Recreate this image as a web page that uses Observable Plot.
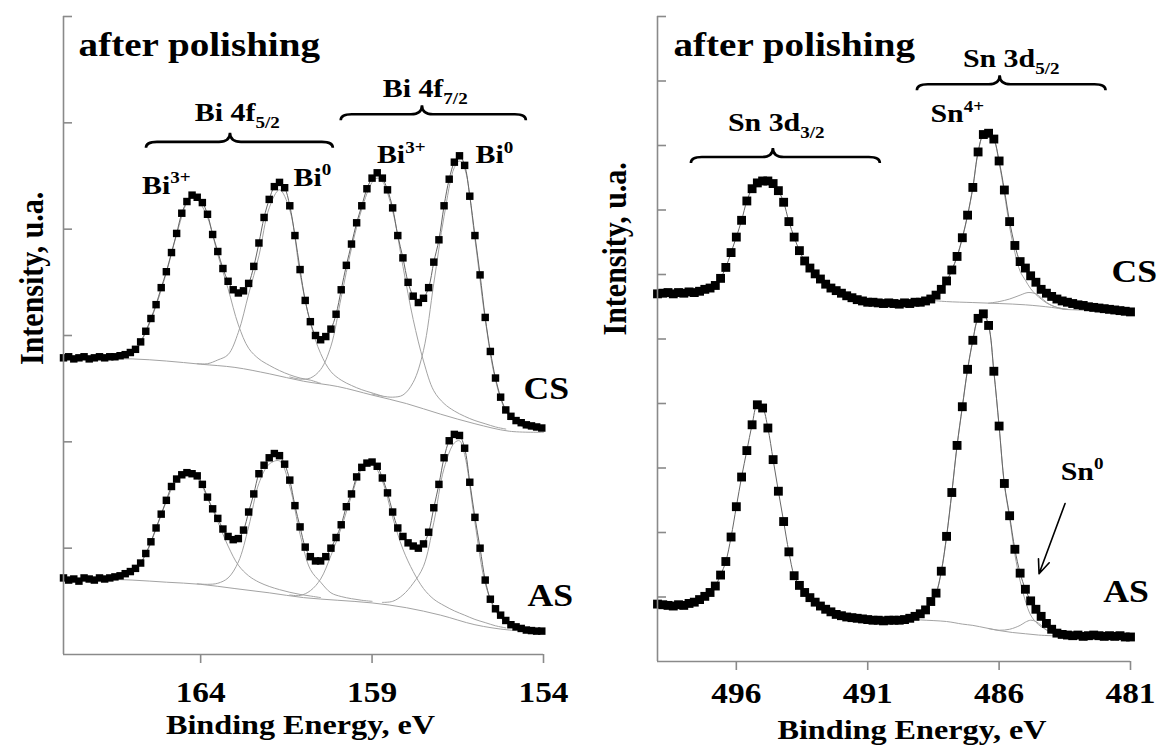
<!DOCTYPE html>
<html>
<head>
<meta charset="utf-8">
<script src="https://cdn.jsdelivr.net/npm/d3@7"></script>
<script src="https://cdn.jsdelivr.net/npm/@observablehq/plot@0.6"></script>
<style>
  body { margin: 0; background: #fff; }
  #wrap { position: relative; width: 1158px; height: 747px; overflow: hidden; background: #fff; }
  #wrap svg { position: absolute; top: 0; }
</style>
</head>
<body>
<div id="wrap"></div>
<script>
// ---------------- Bi 4f panel (left) ----------------
const biEnergy = [168.00,167.85,167.70,167.55,167.40,167.25,167.10,166.95,166.80,166.65,
  166.50,166.35,166.20,166.05,165.90,165.75,165.60,165.45,165.30,165.15,
  165.00,164.85,164.70,164.55,164.40,164.25,164.10,163.95,163.80,163.65,
  163.50,163.35,163.20,163.05,162.90,162.75,162.60,162.45,162.30,162.15,
  162.00,161.85,161.70,161.55,161.40,161.25,161.10,160.95,160.80,160.65,
  160.50,160.35,160.20,160.05,159.90,159.75,159.60,159.45,159.30,159.15,
  159.00,158.85,158.70,158.55,158.40,158.25,158.10,157.95,157.80,157.65,
  157.50,157.35,157.20,157.05,156.90,156.75,156.60,156.45,156.30,156.15,
  156.00,155.85,155.70,155.55,155.40,155.25,155.10,154.95,154.80,154.65,
  154.50,154.35,154.20,154.05];
const biCS = [2.79,2.80,2.78,2.79,2.80,2.78,2.79,2.80,2.79,2.80,
  2.80,2.81,2.82,2.84,2.87,2.94,3.04,3.16,3.29,3.45,
  3.60,3.78,3.96,4.15,4.26,4.32,4.30,4.25,4.14,3.95,
  3.79,3.63,3.51,3.43,3.40,3.42,3.49,3.65,3.87,4.11,
  4.28,4.40,4.44,4.39,4.22,3.94,3.62,3.33,3.13,3.00,
  2.96,2.99,3.06,3.20,3.43,3.66,3.86,4.06,4.22,4.38,
  4.48,4.53,4.48,4.37,4.20,3.94,3.73,3.50,3.37,3.31,
  3.35,3.45,3.69,3.90,4.22,4.47,4.63,4.69,4.60,4.31,
  3.94,3.57,3.17,2.85,2.60,2.42,2.30,2.24,2.20,2.18,
  2.16,2.15,2.14,2.13];
const biAS = [0.72,0.70,0.71,0.69,0.72,0.71,0.70,0.72,0.71,0.72,
  0.73,0.74,0.76,0.78,0.81,0.86,0.95,1.06,1.19,1.32,
  1.45,1.58,1.65,1.69,1.71,1.70,1.68,1.60,1.48,1.37,
  1.28,1.18,1.11,1.08,1.09,1.17,1.34,1.51,1.70,1.78,
  1.85,1.89,1.87,1.79,1.64,1.40,1.20,1.01,0.92,0.88,
  0.88,0.92,1.00,1.10,1.22,1.39,1.51,1.67,1.76,1.80,
  1.81,1.77,1.66,1.52,1.34,1.19,1.11,1.05,1.02,1.00,
  1.04,1.15,1.38,1.60,1.85,2.01,2.07,2.06,1.94,1.62,
  1.29,1.00,0.70,0.52,0.43,0.37,0.32,0.28,0.26,0.245,
  0.23,0.225,0.22,0.22];

// fitted components [energy, intensity]
const biCSBase = [[168,2.78],[167,2.78],[166,2.78],[165,2.76],[164,2.73],[163,2.70],[162,2.64],[161,2.57],[160,2.52],[159,2.44],[158,2.36],[157,2.26],[156,2.17],[155,2.10],[154,2.09]];
const biCSBi3p52 = [[166.8,2.79],[166.5,2.79],[166.2,2.81],[165.9,2.86],[165.6,3.03],[165.3,3.28],[165.0,3.59],[164.7,3.95],[164.4,4.25],[164.25,4.30],[164.1,4.28],[163.8,4.11],[163.5,3.76],[163.2,3.44],[162.9,3.10],[162.6,2.88],[162.3,2.78],[162.0,2.72],[161.7,2.67],[161.4,2.63],[161.1,2.60],[160.8,2.58],[160.5,2.55]];
const biCSBi0_52 = [[164.1,2.735],[163.8,2.735],[163.5,2.77],[163.2,2.82],[162.9,3.03],[162.6,3.39],[162.3,3.75],[162.0,4.20],[161.7,4.37],[161.4,4.18],[161.1,3.58],[160.8,3.12],[160.5,2.83],[160.2,2.66],[159.9,2.58],[159.6,2.53],[159.3,2.49],[159.0,2.46],[158.7,2.43]];
const biCSBi3p72 = [[161.4,2.61],[161.1,2.59],[160.8,2.60],[160.5,2.68],[160.2,2.90],[159.9,3.36],[159.6,3.82],[159.3,4.19],[159.0,4.44],[158.85,4.48],[158.7,4.45],[158.4,4.17],[158.1,3.65],[157.8,3.15],[157.5,2.76],[157.2,2.48],[156.9,2.36],[156.6,2.29],[156.3,2.24],[156.0,2.20],[155.7,2.17],[155.4,2.14],[155.1,2.12]];
const biCSBi0_72 = [[159.0,2.45],[158.7,2.43],[158.4,2.42],[158.1,2.44],[157.8,2.56],[157.5,2.86],[157.2,3.49],[156.9,4.12],[156.6,4.58],[156.45,4.64],[156.3,4.57],[156.0,3.91],[155.7,3.15],[155.4,2.58],[155.1,2.29],[154.8,2.18],[154.5,2.13],[154.2,2.11]];

const biASBase = [[168,0.71],[167,0.71],[166,0.70],[165,0.68],[164,0.66],[163,0.62],[162,0.58],[161,0.535],[160,0.51],[159,0.485],[158,0.44],[157,0.37],[156,0.28],[155,0.23],[154,0.215]];
const biASBi3p52 = [[166.8,0.71],[166.5,0.72],[166.2,0.75],[165.9,0.80],[165.6,0.94],[165.3,1.18],[165.0,1.44],[164.7,1.64],[164.4,1.70],[164.1,1.66],[163.8,1.47],[163.5,1.25],[163.2,1.02],[162.9,0.84],[162.6,0.74],[162.3,0.68],[162.0,0.64],[161.7,0.61],[161.4,0.585],[161.1,0.565],[160.8,0.55],[160.5,0.535]];
const biASBi0_52 = [[164.1,0.665],[163.8,0.66],[163.5,0.67],[163.2,0.72],[162.9,0.87],[162.6,1.20],[162.3,1.61],[162.0,1.79],[161.7,1.82],[161.4,1.58],[161.1,1.13],[160.8,0.80],[160.5,0.68],[160.2,0.58],[159.9,0.545],[159.6,0.525],[159.3,0.51],[159.0,0.50]];
const biASBi3p72 = [[161.4,0.56],[161.1,0.555],[160.8,0.60],[160.5,0.71],[160.2,0.93],[159.9,1.19],[159.6,1.49],[159.3,1.74],[159.0,1.79],[158.7,1.63],[158.4,1.29],[158.1,0.99],[157.8,0.78],[157.5,0.62],[157.2,0.52],[156.9,0.46],[156.6,0.41],[156.3,0.37],[156.0,0.33],[155.7,0.30],[155.4,0.27],[155.1,0.25]];
const biASBi0_72 = [[158.7,0.49],[158.4,0.50],[158.1,0.56],[157.8,0.67],[157.5,0.83],[157.2,1.24],[156.9,1.75],[156.6,1.99],[156.45,2.01],[156.3,1.88],[156.0,1.24],[155.7,0.67],[155.4,0.41],[155.1,0.30],[154.8,0.25],[154.5,0.23],[154.2,0.22]];

const biXTicks = [164, 159, 154];
const biYTicks = [1, 2, 3, 4, 5, 6];
const biTitle = [{text: "after polishing", e: 167.56, v: 5.63}];
const biBands = [{text: "Bi 4f_{5/2}", e: 162.93, v: 5.02}, {text: "Bi 4f_{7/2}", e: 157.45, v: 5.24}];
const biStates = [
  {text: "Bi^{3+}", e: 165.0, v: 4.335}, {text: "Bi^{0}", e: 160.74, v: 4.41},
  {text: "Bi^{3+}", e: 158.15, v: 4.62}, {text: "Bi^{0}", e: 155.43, v: 4.62}];
const biSamples = [{text: "CS", e: 153.92, v: 2.40}, {text: "AS", e: 153.8, v: 0.46}];
const biBraces = [{from: 165.58, to: 160.13, mid: 163.13, at: 4.76}, {from: 159.9, to: 154.5, mid: 157.53, at: 5.02}];

// ---------------- Sn 3d panel (right) ----------------
const snEnergy = [499.0,498.8,498.6,498.4,498.2,498.0,497.8,497.6,497.4,497.2,
  497.0,496.8,496.6,496.4,496.2,496.0,495.8,495.6,495.4,495.2,
  495.0,494.8,494.6,494.4,494.2,494.0,493.8,493.6,493.4,493.2,
  493.0,492.8,492.6,492.4,492.2,492.0,491.8,491.6,491.4,491.2,
  491.0,490.8,490.6,490.4,490.2,490.0,489.8,489.6,489.4,489.2,
  489.0,488.8,488.6,488.4,488.2,488.0,487.8,487.6,487.4,487.2,
  487.0,486.8,486.6,486.4,486.2,486.0,485.8,485.6,485.4,485.2,
  485.0,484.8,484.6,484.4,484.2,484.0,483.8,483.6,483.4,483.2,
  483.0,482.8,482.6,482.4,482.2,482.0,481.8,481.6,481.4,481.2,
  481.0];
const snCS = [5.70,5.71,5.72,5.70,5.72,5.71,5.73,5.72,5.74,5.77,
  5.79,5.83,5.94,6.11,6.34,6.58,6.84,7.14,7.33,7.42,
  7.45,7.45,7.41,7.30,7.12,6.82,6.58,6.37,6.21,6.10,
  6.01,5.93,5.85,5.79,5.75,5.71,5.67,5.64,5.61,5.59,
  5.57,5.57,5.56,5.55,5.56,5.55,5.54,5.56,5.55,5.57,
  5.57,5.59,5.62,5.68,5.77,5.90,6.07,6.28,6.57,6.92,
  7.35,7.90,8.17,8.19,8.10,7.76,7.31,6.82,6.45,6.20,
  6.10,5.98,5.88,5.77,5.71,5.66,5.62,5.59,5.57,5.55,
  5.53,5.52,5.50,5.49,5.48,5.47,5.46,5.45,5.44,5.43,
  5.42];
const snAS = [0.89,0.88,0.87,0.86,0.88,0.87,0.90,0.92,0.96,1.01,
  1.07,1.17,1.34,1.55,1.93,2.40,2.86,3.27,3.67,3.98,
  3.93,3.62,3.13,2.64,2.17,1.70,1.33,1.18,1.07,0.99,
  0.92,0.86,0.81,0.77,0.73,0.71,0.69,0.68,0.67,0.66,
  0.65,0.64,0.64,0.63,0.64,0.64,0.64,0.65,0.67,0.70,
  0.74,0.80,0.93,1.06,1.40,1.94,2.62,3.35,3.95,4.53,
  4.98,5.32,5.39,5.21,4.50,3.65,2.76,2.26,1.74,1.37,
  1.12,0.94,0.81,0.70,0.59,0.50,0.44,0.42,0.41,0.40,
  0.41,0.39,0.40,0.41,0.40,0.39,0.40,0.39,0.40,0.38,
  0.38];

const snCSBase = [[488.6,5.60],[488.0,5.58],[487.0,5.565],[486.0,5.55],[485.0,5.53],[484.0,5.49],[483.5,5.46],[483.0,5.45],[482.0,5.43],[481.0,5.42]];
const snCSSn4 = [[488.6,5.61],[488.4,5.67],[488.2,5.76],[488.0,5.89],[487.8,6.06],[487.6,6.27],[487.4,6.56],[487.2,6.91],[487.0,7.34],[486.8,7.89],[486.6,8.16],[486.4,8.18],[486.2,8.09],[486.0,7.73],[485.8,7.26],[485.6,6.74],[485.4,6.34],[485.2,6.05],[485.0,5.91],[484.8,5.78],[484.6,5.69],[484.4,5.62],[484.2,5.56],[484.0,5.52],[483.8,5.49],[483.6,5.47],[483.4,5.46]];
const snCSSn0 = [[486.4,5.555],[486.0,5.58],[485.6,5.62],[485.2,5.68],[484.9,5.72],[484.6,5.70],[484.4,5.64],[484.2,5.57],[484.0,5.52],[483.8,5.49],[483.6,5.47],[483.4,5.46]];
const snASBase = [[489.4,0.66],[489.0,0.645],[488.0,0.62],[487.4,0.58],[487.0,0.56],[486.5,0.52],[486.0,0.48],[485.5,0.45],[485.0,0.43],[484.5,0.41],[484.0,0.40],[483.0,0.40],[482.0,0.39],[481.0,0.38]];
const snASSn4 = [[489.0,0.75],[488.8,0.80],[488.6,0.92],[488.4,1.05],[488.2,1.39],[488.0,1.93],[487.8,2.61],[487.6,3.34],[487.4,3.94],[487.2,4.52],[487.0,4.97],[486.8,5.31],[486.6,5.38],[486.4,5.20],[486.2,4.49],[486.0,3.64],[485.8,2.74],[485.6,2.22],[485.4,1.66],[485.2,1.25],[485.0,0.94],[484.8,0.72],[484.6,0.61],[484.4,0.54],[484.2,0.49],[484.0,0.45],[483.8,0.42],[483.6,0.405],[483.4,0.40]];
const snASSn0 = [[486.4,0.51],[486.0,0.485],[485.6,0.50],[485.2,0.56],[485.0,0.61],[484.8,0.64],[484.6,0.62],[484.4,0.56],[484.2,0.49],[484.0,0.44],[483.8,0.41],[483.6,0.40]];

const snXTicks = [496, 491, 486, 481];
const snYTicks = [1, 2, 3, 4, 5, 6, 7, 8, 9, 10];
const snTitle = [{text: "after polishing", e: 498.39, v: 9.395}];
const snBands = [{text: "Sn 3d_{5/2}", e: 485.54, v: 9.21}, {text: "Sn 3d_{3/2}", e: 494.48, v: 8.22}];
const snStates = [{text: "Sn^{4+}", e: 487.59, v: 8.36}, {text: "Sn^{0}", e: 482.84, v: 2.82}];
const snSamples = [{text: "CS", e: 480.86, v: 5.89}, {text: "AS", e: 481.17, v: 0.93}];
const snBraces = [{from: 497.71, to: 490.52, mid: 494.59, at: 7.72}, {from: 489.11, to: 481.93, mid: 485.96, at: 8.85}];
const snArrow = [{e1: 483.49, v1: 2.45, e2: 484.48, v2: 1.36}];

// ---------------- rendering ----------------
const NS = "http://www.w3.org/2000/svg";
const FONT = "'Liberation Serif','Times New Roman',Times,serif";
const AXIS = "#8a8a8a";
const COMP = "#a3a3a3";

const table = (E, V) => E.map((e, i) => ({e, v: V[i]}));

function braceMark(list) {
  return (index, scales) => {
    const g = document.createElementNS(NS, "g");
    for (const b of list) {
      const x1 = scales.x(b.from), x2 = scales.x(b.to), xm = scales.x(b.mid), y0 = scales.y(b.at);
      const yl = y0 - 6, yc = yl - 9, r = 11;
      const p = document.createElementNS(NS, "path");
      p.setAttribute("d", `M${x1},${y0}Q${x1},${yl} ${x1 + r},${yl}L${xm - r},${yl}Q${xm},${yl} ${xm},${yc}Q${xm},${yl} ${xm + r},${yl}L${x2 - r},${yl}Q${x2},${yl} ${x2},${y0}`);
      p.setAttribute("fill", "none");
      p.setAttribute("stroke", "black");
      p.setAttribute("stroke-width", "2.6");
      g.appendChild(p);
    }
    return g;
  };
}

function compLines(list) {
  return list.map(c => Plot.line(c, {x: d => d[0], y: d => d[1], curve: "catmull-rom", stroke: COMP, strokeWidth: 1}));
}

function spectrum(data, r) {
  return [
    Plot.line(data, {x: "e", y: "v", curve: "catmull-rom", stroke: "#666", strokeWidth: 1}),
    Plot.dot(data, {x: "e", y: "v", symbol: "square", r, fill: "black"})
  ];
}

function labels(title, bands, states, samples, bandSize, stateSize, sampleSize) {
  const common = {x: "e", y: "v", text: "text", lineAnchor: "bottom", fontWeight: "bold", fill: "black"};
  return [
    Plot.text(title, {...common, textAnchor: "start", fontSize: 34}),
    Plot.text(bands, {...common, textAnchor: "middle", fontSize: bandSize}),
    Plot.text(states, {...common, textAnchor: "middle", fontSize: stateSize}),
    Plot.text(samples, {...common, textAnchor: "middle", fontSize: sampleSize})
  ];
}

const left = Plot.plot({
  width: 579, height: 747,
  marginLeft: 63, marginRight: 36, marginTop: 16, marginBottom: 93,
  style: {fontFamily: FONT, background: "transparent", overflow: "visible", color: "black"},
  x: {domain: [168, 154]},
  y: {domain: [0, 6]},
  marks: [
    ...compLines([biCSBase, biCSBi3p52, biCSBi0_52, biCSBi3p72, biCSBi0_72]),
    ...compLines([biASBase, biASBi3p52, biASBi0_52, biASBi3p72, biASBi0_72]),
    ...spectrum(table(biEnergy, biCS), 4.2),
    ...spectrum(table(biEnergy, biAS), 4.2),
    Plot.ruleY([0], {stroke: AXIS, strokeWidth: 1.6}),
    Plot.ruleX([168], {stroke: AXIS, strokeWidth: 1.6}),
    Plot.axisX(biXTicks, {tickSize: 9, tickPadding: 18, fontSize: 29, fontWeight: "bold", stroke: AXIS, strokeWidth: 1.6, fill: "black", label: null}),
    Plot.axisY(biYTicks, {tickSize: 9, dx: 9, stroke: AXIS, strokeWidth: 1.6, tickFormat: () => "", label: null}),
    braceMark(biBraces),
    ...labels(biTitle, biBands, biStates, biSamples, 26, 26, 31),
    Plot.text(["Binding Energy, eV"], {text: d => d, frameAnchor: "bottom", dx: -3, dy: 79, lineAnchor: "bottom", fontSize: 28, fontWeight: "bold", fill: "black"}),
    Plot.text(["Intensity, u.a."], {text: d => d, frameAnchor: "left", rotate: -90, dx: -32, dy: 29.5, lineAnchor: "middle", fontSize: 30, fontWeight: "bold", fill: "black"})
  ]
});

const right = Plot.plot({
  width: 579, height: 747,
  marginLeft: 78, marginRight: 28, marginTop: 16, marginBottom: 86,
  style: {fontFamily: FONT, background: "transparent", overflow: "visible", color: "black"},
  x: {domain: [499, 481]},
  y: {domain: [0, 10]},
  marks: [
    ...compLines([snCSBase, snCSSn4, snCSSn0, snASBase, snASSn4, snASSn0]),
    ...spectrum(table(snEnergy, snCS), 5.0),
    ...spectrum(table(snEnergy, snAS), 5.0),
    Plot.ruleY([0], {stroke: AXIS, strokeWidth: 1.6}),
    Plot.ruleX([499], {stroke: AXIS, strokeWidth: 1.6}),
    Plot.axisX(snXTicks, {tickSize: 9, tickPadding: 12, fontSize: 29, fontWeight: "bold", stroke: AXIS, strokeWidth: 1.6, fill: "black", label: null}),
    Plot.axisY(snYTicks, {tickSize: 9, dx: 9, stroke: AXIS, strokeWidth: 1.6, tickFormat: () => "", label: null}),
    braceMark(snBraces),
    Plot.arrow(snArrow, {x1: "e1", y1: "v1", x2: "e2", y2: "v2", stroke: "black", strokeWidth: 1.6, headLength: 14, headAngle: 45}),
    ...labels(snTitle, snBands, snStates, snSamples, 26, 26, 31),
    Plot.text(["Binding Energy, eV"], {text: d => d, frameAnchor: "bottom", dx: 18, dy: 77, lineAnchor: "bottom", fontSize: 28, fontWeight: "bold", fill: "black"}),
    Plot.text(["Intensity, u.a."], {text: d => d, frameAnchor: "left", rotate: -90, dx: -43, dy: -3.5, lineAnchor: "middle", fontSize: 30, fontWeight: "bold", fill: "black"})
  ]
});

left.style.left = "0px";
right.style.left = "579px";
const wrap = document.getElementById("wrap");
wrap.append(left, right);

// sub/superscripts and the figure's slightly wide lettering
function finish(svg) {
  svg.querySelectorAll("text").forEach(t => {
    const s = t.textContent;
    if (/[_^]\{/.test(s)) {
      const fs = parseFloat(getComputedStyle(t).fontSize) || 26;
      while (t.firstChild) t.removeChild(t.firstChild);
      let shift = 0;
      const re = /([_^])\{([^}]*)\}|([^_^]+)/g;
      let m;
      while ((m = re.exec(s))) {
        const ts = document.createElementNS(NS, "tspan");
        let target = 0;
        if (m[3] != null) {
          ts.textContent = m[3];
        } else {
          ts.textContent = m[2];
          ts.setAttribute("font-size", (fs * 0.64).toFixed(1));
          target = m[1] === "_" ? fs * 0.27 : -fs * 0.40;
        }
        const dy = target - shift;
        if (dy) ts.setAttribute("dy", dy.toFixed(1));
        shift = target;
        t.appendChild(ts);
      }
    }
    const tr = t.getAttribute("transform");
    if (tr && /rotate/.test(tr)) t.setAttribute("transform", tr + " scale(1,1.15)");
    else if (tr) t.setAttribute("transform", tr + " scale(1.15,1)");
    else {
      const x = parseFloat(t.getAttribute("x")) || 0, y = parseFloat(t.getAttribute("y")) || 0;
      t.setAttribute("transform", `translate(${x},${y}) scale(1.15,1) translate(${-x},${-y})`);
    }
  });
}
finish(left);
finish(right);
</script>
</body>
</html>
